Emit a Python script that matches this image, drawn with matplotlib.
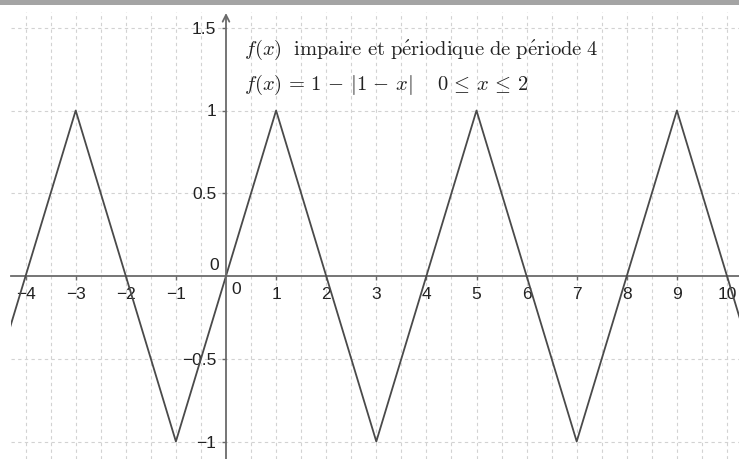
import numpy as np
import matplotlib
matplotlib.use("Agg")
import matplotlib.pyplot as plt
from matplotlib.patches import Rectangle

# Data: vertices of the triangle wave (odd, period 4)
vx = [-5, -3, -1, 1, 3, 5, 7, 9, 11]
vy = [-1, 1, -1, 1, -1, 1, -1, 1, -1]
xticks = [-4, -3, -2, -1, 1, 2, 3, 4, 5, 6, 7, 8, 9, 10]
xtick_labels = ["\u22124", "\u22123", "\u22122", "\u22121", "1", "2", "3", "4",
                "5", "6", "7", "8", "9", "10"]
yticks = [-1, -0.5, 0.5, 1, 1.5]
ytick_labels = ["\u22121", "\u22120.5", "0.5", "1", "1.5"]
line1 = r"$f(x)\ \ \mathrm{impaire\ et\ p\acute{e}riodique\ de\ p\acute{e}riode\ 4}$"
line2 = r"$f(x)\,=\,1\,-\,|1\,-\,x|\quad\ 0\,\leq\,x\,\leq\,2$"

plt.rcParams['mathtext.fontset'] = 'cm'
plt.rcParams['font.family'] = ['Liberation Sans', 'DejaVu Sans']

W, H = 739, 459
fig = plt.figure(figsize=(W / 100, H / 100), dpi=100)
left_px, top_px = 11, 12
ax = fig.add_axes([left_px / W, 0, (W - left_px) / W, (H - top_px) / H])

sx = 50.1
sy = 165.5
x0p, y0p = 226, 276
xmin, xmax = (left_px - x0p) / sx, (W - x0p) / sx
ymin, ymax = (y0p - H) / sy, (y0p - top_px) / sy
ax.set_xlim(xmin, xmax)
ax.set_ylim(ymin, ymax)

gridc = '#d2d2d2'
for gx in np.arange(-4.0, 10.6, 0.5):
    if abs(gx) > 1e-9:
        ax.axvline(gx, color=gridc, lw=0.8, ls=(0, (3, 3)), zorder=0)
for gy in np.arange(-1.0, 1.6, 0.5):
    if abs(gy) > 1e-9:
        ax.axhline(gy, color=gridc, lw=0.8, ls=(0, (3, 3)), zorder=0)

ax.plot(vx, vy, color='#4a4a4a', lw=1.3, zorder=3)

axc = '#6a6a6a'
for s in ['top', 'right']:
    ax.spines[s].set_visible(False)
ax.spines['bottom'].set_position(('data', 0))
ax.spines['left'].set_position(('data', 0))
ax.spines['bottom'].set_color(axc)
ax.spines['bottom'].set_linewidth(1.3)
ax.spines['left'].set_visible(False)
ax.annotate('', xy=(0, (y0p - 13) / sy), xytext=(0, ymin - 0.05),
            arrowprops=dict(arrowstyle='->', color=axc, lw=1.3,
                            shrinkA=0, shrinkB=0, mutation_scale=12),
            zorder=4, annotation_clip=False)

ax.set_xticks(xticks)
ax.set_xticklabels(xtick_labels)
ax.set_yticks(yticks)
ax.set_yticklabels(ytick_labels)
ax.tick_params(axis='x', direction='out', length=3, width=1, color=axc,
               labelsize=12.5, pad=5, labelcolor='#222222')
ax.tick_params(axis='y', direction='out', length=3, width=1, color=axc,
               labelsize=12.5, pad=4, labelcolor='#222222')

ax.text(0.2, -0.035, "0", fontsize=12.5, color='#222222', ha='center', va='top')
ax.text(-0.14, 0.02, "0", fontsize=12.5, color='#222222', ha='right', va='bottom')

ax.text((244 - x0p) / sx, (y0p - 55) / sy, line1, fontsize=14.8, color='#222222',
        ha='left', va='baseline')
ax.text((244 - x0p) / sx, (y0p - 90) / sy, line2, fontsize=14.8, color='#222222',
        ha='left', va='baseline')

fig.add_artist(Rectangle((0, 1 - 4.5 / H), 1, 4.5 / H, transform=fig.transFigure,
                         facecolor='#a4a4a4', edgecolor='none'))

fig.savefig('out.png', dpi=100)
